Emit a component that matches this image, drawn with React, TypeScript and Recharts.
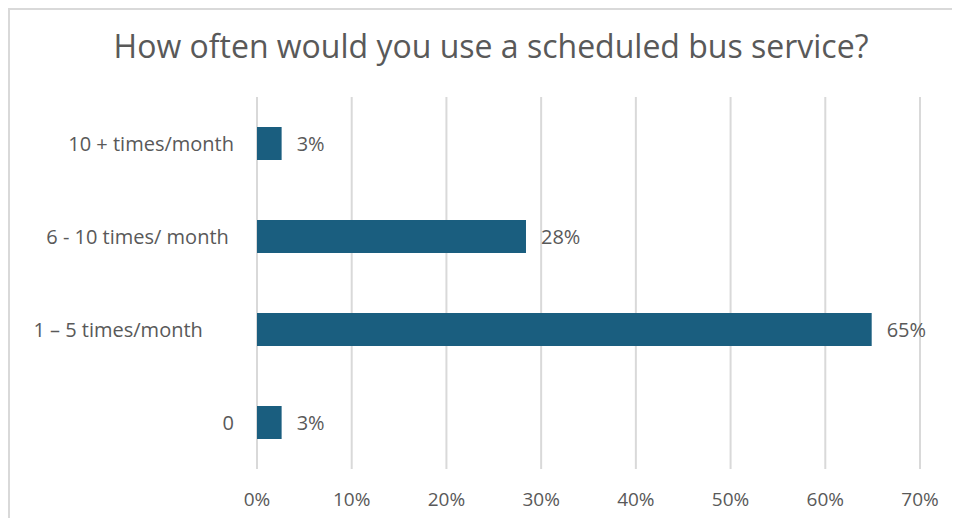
import { BarChart, Bar, XAxis, YAxis, CartesianGrid, LabelList } from "recharts";

// categories top to bottom (trailing spaces kept as in the source sheet)
const categories = [
  "10 + times/month",
  "6 - 10 times/ month\u00A0",
  "1 \u2013 5 times/month\u00A0\u00A0\u00A0\u00A0\u00A0\u00A0",
  "0",
];
const shares = [2.6, 28.4, 64.9, 2.6];
const xTicks = [0, 10, 20, 30, 40, 50, 60, 70];

const data = categories.map((name, i) => ({ name, value: shares[i] }));

const GREY = "#595959";
const FONT = "'Open Sans', sans-serif";

function CategoryTick({ x, y, payload }: { x?: number; y?: number; payload?: { value: string } }) {
  return (
    <text
      x={x}
      y={y}
      dy="0.35em"
      textAnchor="end"
      fill={GREY}
      fontSize={20}
      fontFamily={FONT}
      style={{ whiteSpace: "pre" }}
    >
      {payload?.value}
    </text>
  );
}

export default function App() {
  return (
    <div
      style={{
        position: "relative",
        width: 952,
        height: 510,
        boxSizing: "border-box",
        borderTop: "2px solid #d9d9d9",
        borderLeft: "2px solid #d9d9d9",
        background: "#fff",
        fontFamily: FONT,
        overflow: "hidden",
      }}
    >
      <div
        style={{
          position: "absolute",
          left: 12,
          top: 16,
          width: 938,
          textAlign: "center",
          color: GREY,
          fontSize: 32,
          lineHeight: "40px",
        }}
      >
        How often would you use a scheduled bus service?
      </div>
      <BarChart
        width={950}
        height={508}
        data={data}
        layout="vertical"
        margin={{ top: 87, right: 40, left: 0, bottom: 0 }}
      >
        <CartesianGrid horizontal={false} stroke="#d9d9d9" strokeWidth={2} />
        <XAxis
          type="number"
          domain={[0, 70]}
          ticks={xTicks}
          tickFormatter={(v: number) => `${v}%`}
          axisLine={false}
          tickLine={false}
          tickSize={0}
          tickMargin={24}
          height={49}
          tick={{ fill: GREY, fontSize: 19, fontFamily: FONT }}
        />
        <YAxis
          type="category"
          dataKey="name"
          width={247}
          axisLine={false}
          tickLine={false}
          tickSize={0}
          tickMargin={23}
          tick={<CategoryTick />}
        />
        <Bar dataKey="value" fill="#1a5e7f" barSize={33} isAnimationActive={false}>
          <LabelList
            dataKey="value"
            position="right"
            offset={15}
            fill={GREY}
            fontSize={20}
            fontFamily={FONT}
            formatter={(v: number) => `${Math.round(v)}%`}
          />
        </Bar>
      </BarChart>
    </div>
  );
}
